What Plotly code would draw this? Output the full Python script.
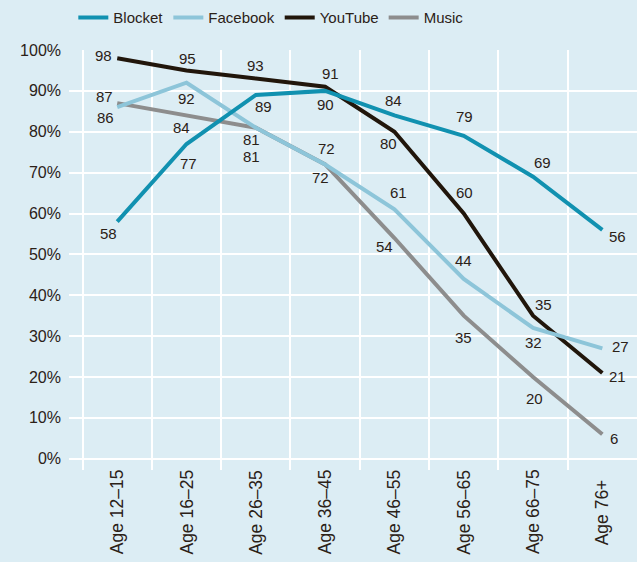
import plotly.graph_objects as go

# ---------------- data ----------------
categories = ["Age 12–15", "Age 16–25", "Age 26–35", "Age 36–45",
              "Age 46–55", "Age 56–65", "Age 66–75", "Age 76+"]
blocket = [58, 77, 89, 90, 84, 79, 69, 56]
facebook = [86, 92, 81, 72, 61, 44, 32, 27]
youtube = [98, 95, 93, 91, 80, 60, 35, 21]
music = [87, 84, 81, 72, 54, 35, 20, 6]
y_tick_values = [0, 10, 20, 30, 40, 50, 60, 70, 80, 90, 100]
y_tick_labels = [f"{v}%" for v in y_tick_values]

# ---------------- styles ----------------
BG = "#dcedf4"
TEXT = "#2b2117"
FONT = "Liberation Sans, Arial, sans-serif"

series = [
    # name, values, colour, legend rank, label offsets (dx, dy screen px)
    ("Music", music, "#8d8d8d", 4,
     [(-13, -7), (-5, 12), (-4, 29), (-5, 13), (-10, 8), (0, 22), (1, 21), (12, 4)]),
    ("YouTube", youtube, "#21160b", 3,
     [(-14, -3), (1, -12), (0, -13), (5, -13), (-6, 12), (1, -21), (10, -11), (15, 4)]),
    ("Facebook", facebook, "#8dc5d9", 2,
     [(-12, 10), (0, 16), (-4, 12), (1, -16), (4, -17), (0, -18), (0, 15), (18, -2)]),
    ("Blocket", blocket, "#1191b0", 1,
     [(-9, 12), (2, 19), (8, 12), (0, 14), (-1, -15), (1, -19), (9, -14), (15, 7)]),
]

fig = go.Figure()
annotations = []
for name, vals, color, rank, offs in series:
    fig.add_trace(go.Scatter(
        x=categories, y=vals, mode="lines", name=name,
        line=dict(color=color, width=4), legendrank=rank,
        hoverinfo="skip",
    ))
    for c, v, (dx, dy) in zip(categories, vals, offs):
        annotations.append(dict(
            x=c, y=v, xref="x", yref="y", text=str(v), showarrow=False,
            xshift=dx, yshift=-dy, xanchor="center", yanchor="middle",
            font=dict(family=FONT, size=15, color=TEXT),
        ))

# category labels (rotated, centred like the original)
for c in categories:
    annotations.append(dict(
        x=c, y=0, xref="x", yref="paper", text=c, showarrow=False,
        textangle=-90, yshift=-42, xanchor="center", yanchor="middle",
        font=dict(family=FONT, size=17.5, color=TEXT),
    ))

fig.update_layout(
    width=637, height=562,
    margin=dict(l=69, r=0, t=50, b=92),
    paper_bgcolor=BG, plot_bgcolor=BG,
    font=dict(family=FONT, color=TEXT),
    showlegend=True,
    hovermode=False,
    legend=dict(
        orientation="h", xref="container", yref="container",
        x=0.1151, y=1 - 17.7 / 562, xanchor="left", yanchor="middle",
        font=dict(family=FONT, size=15, color=TEXT),
        bgcolor="rgba(0,0,0,0)", itemwidth=30,
    ),
    annotations=annotations,
)
fig.update_xaxes(
    type="category", range=[-0.696, 7.5], tickson="boundaries",
    showgrid=True, gridcolor="white", gridwidth=1.5,
    showticklabels=False, ticks="", showline=False, zeroline=False,
)
fig.update_yaxes(
    range=[-2.75, 100], tickvals=y_tick_values, ticktext=y_tick_labels,
    showgrid=True, gridcolor="white", gridwidth=1.5, zeroline=False,
    showline=False, ticks="", ticklabelstandoff=7,
    tickfont=dict(family=FONT, size=16, color=TEXT),
)

fig.write_html(
    "out.html",
    config={"displayModeBar": False},
    post_script="document.body.style.margin='0';document.body.style.background='%s';" % BG,
)
